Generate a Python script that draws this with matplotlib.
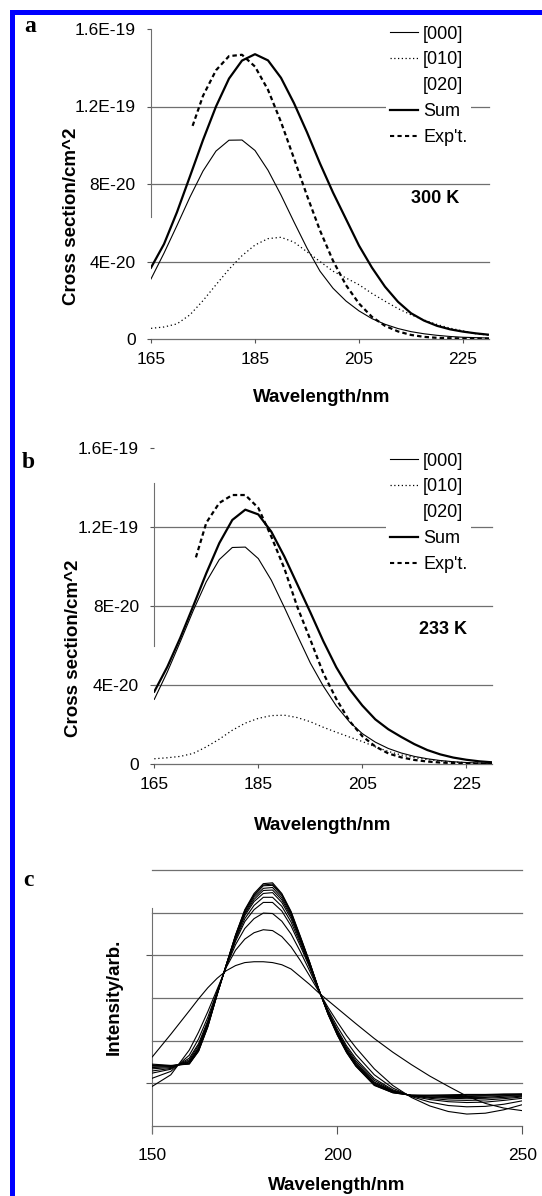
import matplotlib
matplotlib.use("Agg")
import matplotlib.pyplot as plt
from matplotlib.lines import Line2D
from matplotlib.patches import Rectangle

plt.rcParams['font.family'] = ['Liberation Sans', 'DejaVu Sans']

# ---------------- data (cross sections in units of 1E-20 cm^2) ----------------
wl_ab = [165.0, 167.5, 170.0, 172.5, 175.0, 177.5, 180.0, 182.5, 185.0, 187.5,
         190.0, 192.5, 195.0, 197.5, 200.0, 202.5, 205.0, 207.5, 210.0, 212.5,
         215.0, 217.5, 220.0, 222.5, 225.0, 227.5, 230.0]
wl_exp = [173.0, 175.0, 177.5, 180.0, 182.5, 185.0, 187.5, 190.0, 192.5, 195.0,
          197.5, 200.0, 202.5, 205.0, 207.5, 210.0, 212.5, 215.0, 217.5, 220.0,
          222.5, 225.0, 227.5, 230.0]

a_000 = [3.10, 4.43, 5.86, 7.33, 8.67, 9.70, 10.26, 10.27, 9.73, 8.71, 7.43, 6.04,
         4.69, 3.50, 2.62, 1.96, 1.45, 1.05, 0.76, 0.54, 0.38, 0.27, 0.19, 0.13,
         0.09, 0.07, 0.05]
a_010 = [0.55, 0.62, 0.78, 1.25, 1.98, 2.80, 3.60, 4.30, 4.85, 5.18, 5.25, 5.00,
         4.50, 4.00, 3.50, 3.15, 2.80, 2.35, 1.95, 1.57, 1.25, 0.98, 0.75, 0.56,
         0.42, 0.27, 0.20]
a_sum = [3.68, 4.90, 6.55, 8.40, 10.27, 12.00, 13.44, 14.37, 14.70, 14.38, 13.48,
         12.17, 10.67, 9.06, 7.56, 6.19, 4.82, 3.68, 2.70, 1.92, 1.33, 0.95, 0.68,
         0.50, 0.38, 0.29, 0.22]
a_exp = [11.0, 12.55, 13.87, 14.60, 14.67, 14.06, 12.86, 11.20, 9.32, 7.40, 5.60,
         4.04, 2.78, 1.83, 1.14, 0.68, 0.39, 0.21, 0.11, 0.06, 0.04, 0.03, 0.02, 0.02]

b_000 = [3.28, 4.66, 6.19, 7.77, 9.22, 10.34, 10.95, 10.97, 10.39, 9.30, 7.93, 6.51,
         5.12, 3.95, 2.95, 2.15, 1.55, 1.12, 0.80, 0.57, 0.40, 0.28, 0.19, 0.13,
         0.09, 0.06, 0.04]
b_010 = [0.28, 0.33, 0.40, 0.55, 0.88, 1.27, 1.72, 2.08, 2.32, 2.46, 2.48, 2.36,
         2.15, 1.87, 1.62, 1.38, 1.15, 0.88, 0.65, 0.47, 0.34, 0.24, 0.17, 0.12,
         0.08, 0.06, 0.04]
b_sum = [3.67, 4.92, 6.39, 8.00, 9.65, 11.17, 12.34, 12.86, 12.62, 11.75, 10.50,
         9.09, 7.68, 6.22, 4.90, 3.81, 2.97, 2.27, 1.77, 1.38, 1.02, 0.72, 0.50,
         0.34, 0.23, 0.15, 0.10]
b_exp = [10.45, 12.20, 13.20, 13.60, 13.60, 12.95, 11.50, 9.90, 7.95, 6.30, 4.60,
         3.30, 2.20, 1.42, 0.90, 0.55, 0.35, 0.22, 0.14, 0.09, 0.06, 0.04, 0.03, 0.02]

y_ticks_ab = [0, 4, 8, 12, 16]
y_ticklabels_ab = ['0', '4E-20', '8E-20', '1.2E-19', '1.6E-19']
x_ticks_ab = [165, 185, 205, 225]
legend_labels = ['[000]', '[010]', '[020]', 'Sum', "Exp't."]

# panel c: intensity (arb.) of a family of spectra
wl_c = [150, 155, 160, 162.5, 165, 167.5, 170, 172.5, 175, 177.5, 180, 182.5, 185,
        187.5, 190, 192.5, 195, 197.5, 200, 202.5, 205, 210, 215, 220, 225, 230,
        235, 240, 245, 250]
c_spectra = [
    [1.62, 2.15, 2.70, 2.98, 3.24, 3.46, 3.64, 3.76, 3.83, 3.85, 3.85, 3.83, 3.78, 3.68, 3.50,
     3.32, 3.12, 2.94, 2.76, 2.58, 2.40, 2.05, 1.73, 1.44, 1.17, 0.93, 0.70, 0.53, 0.42, 0.36],
    [0.93, 1.20, 1.78, 2.20, 2.68, 3.20, 3.72, 4.12, 4.38, 4.53, 4.60, 4.58, 4.44, 4.20, 3.88,
     3.52, 3.15, 2.78, 2.44, 2.12, 1.84, 1.34, 0.95, 0.67, 0.47, 0.34, 0.28, 0.30, 0.38, 0.50],
    [1.12, 1.28, 1.66, 2.04, 2.55, 3.15, 3.74, 4.25, 4.63, 4.86, 4.99, 4.98, 4.80, 4.50, 4.09,
     3.64, 3.17, 2.72, 2.33, 1.98, 1.68, 1.20, 0.89, 0.69, 0.56, 0.48, 0.45, 0.46, 0.51, 0.59],
    [1.24, 1.33, 1.59, 1.93, 2.47, 3.12, 3.76, 4.33, 4.79, 5.07, 5.24, 5.24, 5.04, 4.69, 4.22,
     3.72, 3.18, 2.69, 2.26, 1.88, 1.58, 1.11, 0.85, 0.70, 0.62, 0.57, 0.55, 0.56, 0.60, 0.65],
    [1.29, 1.35, 1.55, 1.89, 2.43, 3.11, 3.76, 4.37, 4.86, 5.17, 5.36, 5.36, 5.15, 4.78, 4.28,
     3.75, 3.19, 2.67, 2.22, 1.84, 1.53, 1.07, 0.83, 0.71, 0.65, 0.61, 0.60, 0.61, 0.64, 0.68],
    [1.34, 1.37, 1.52, 1.84, 2.40, 3.10, 3.77, 4.40, 4.93, 5.26, 5.45, 5.47, 5.24, 4.86, 4.33,
     3.78, 3.19, 2.65, 2.20, 1.80, 1.49, 1.03, 0.82, 0.71, 0.67, 0.65, 0.64, 0.65, 0.67, 0.70],
    [1.37, 1.39, 1.50, 1.82, 2.37, 3.09, 3.77, 4.43, 4.97, 5.31, 5.52, 5.53, 5.30, 4.91, 4.37,
     3.80, 3.19, 2.64, 2.18, 1.78, 1.47, 1.01, 0.81, 0.71, 0.68, 0.67, 0.67, 0.67, 0.70, 0.71],
    [1.40, 1.40, 1.48, 1.80, 2.36, 3.08, 3.77, 4.44, 5.00, 5.36, 5.57, 5.59, 5.35, 4.95, 4.39,
     3.82, 3.20, 2.64, 2.16, 1.76, 1.44, 0.99, 0.80, 0.72, 0.70, 0.69, 0.69, 0.70, 0.71, 0.73],
    [1.42, 1.41, 1.47, 1.77, 2.34, 3.08, 3.78, 4.46, 5.04, 5.40, 5.63, 5.64, 5.40, 4.99, 4.42,
     3.83, 3.20, 2.63, 2.15, 1.74, 1.42, 0.97, 0.79, 0.72, 0.71, 0.71, 0.72, 0.72, 0.73, 0.74],
    [1.43, 1.41, 1.46, 1.76, 2.33, 3.07, 3.78, 4.47, 5.05, 5.42, 5.65, 5.67, 5.43, 5.01, 4.43,
     3.84, 3.20, 2.62, 2.14, 1.73, 1.41, 0.96, 0.78, 0.72, 0.72, 0.72, 0.73, 0.73, 0.74, 0.75],
    [1.45, 1.42, 1.45, 1.75, 2.32, 3.07, 3.78, 4.48, 5.07, 5.45, 5.68, 5.70, 5.45, 5.03, 4.45,
     3.85, 3.20, 2.62, 2.13, 1.72, 1.40, 0.95, 0.78, 0.72, 0.72, 0.73, 0.74, 0.74, 0.75, 0.75],
]
x_ticks_c = [150, 200, 250]
grid_levels_c = [0, 1, 2, 3, 4, 5, 6]

# ---------------- figure ----------------
W, H = 542, 1196
fig = plt.figure(figsize=(W / 100, H / 100), dpi=100)
fig.patch.set_facecolor('white')

GRID = '#6f6f6f'
TICKFS = 12.5
LABFS = 13.5


def px_axes(x0, x1, y0, y1):
    return fig.add_axes([x0 / W, 1 - y1 / H, (x1 - x0) / W, (y1 - y0) / H])


def style_axes(ax):
    for s in ['top', 'right', 'bottom']:
        ax.spines[s].set_visible(False)
    ax.spines['left'].set_color(GRID)
    ax.spines['left'].set_linewidth(0.8)
    ax.tick_params(axis='both', colors='#555555', labelcolor='black',
                   labelsize=TICKFS, width=0.8)


def panel_ab(ax, s000, s010, ssum, sexp, temp_text, temp_xy, legend_px, spine_bounds):
    ax.set_xlim(165, 230)
    ax.set_ylim(0, 16)
    style_axes(ax)
    ax.spines['left'].set_bounds(*spine_bounds)
    for g in y_ticks_ab[:-1]:
        ax.axhline(g, color=GRID, lw=0.9, zorder=1, clip_on=False)
    ax.plot(wl_ab, s000, color='black', lw=0.8, zorder=3)
    ax.plot(wl_ab, s010, color='black', lw=0.9, ls=(0, (1, 2.2)), zorder=3)
    ax.plot(wl_ab, ssum, color='black', lw=1.6, zorder=4)
    ax.plot(wl_exp, sexp, color='black', lw=1.6, ls=(0, (2.0, 1.4)), zorder=4)
    ax.set_yticks(y_ticks_ab)
    ax.set_yticklabels(y_ticklabels_ab)
    ax.set_xticks(x_ticks_ab)
    ax.tick_params(axis='y', length=3, pad=8)
    ax.tick_params(axis='x', length=3, pad=6)
    ax.text(temp_xy[0], temp_xy[1], temp_text, fontsize=13, fontweight='bold',
            ha='center', va='center')
    handles = [Line2D([], [], color='black', lw=0.8),
               Line2D([], [], color='black', lw=0.9, ls=(0, (1, 2))),
               Line2D([], [], color='none', lw=0),
               Line2D([], [], color='black', lw=1.6),
               Line2D([], [], color='black', lw=1.5, ls=(0, (2.0, 1.6)))]
    leg = ax.legend(handles, legend_labels, loc='upper left',
                    bbox_to_anchor=(legend_px[0] / W, 1 - legend_px[1] / H),
                    bbox_transform=fig.transFigure, frameon=True, fancybox=False,
                    facecolor='white', edgecolor='none', framealpha=1.0,
                    fontsize=13, handlelength=1.55, handletextpad=0.3,
                    labelspacing=0.49, borderpad=0.2, borderaxespad=0)
    leg.set_zorder(5)


# panel a
ax_a = px_axes(151, 489, 29, 339)
panel_ab(ax_a, a_000, a_010, a_sum, a_exp, '300 K', (219.6, 7.25), (386, 22), (6.3, 16))

# panel b
ax_b = px_axes(154.3, 492.3, 447.5, 764.3)
panel_ab(ax_b, b_000, b_010, b_sum, b_exp, '233 K', (220.5, 6.83), (386, 449), (6.0, 14.2))

# panel c
ax_c = px_axes(152.3, 522.3, 870, 1126)
ax_c.set_xlim(150, 250)
ax_c.set_ylim(0, 6)
style_axes(ax_c)
ax_c.spines['left'].set_bounds(-0.16, 5.1)
for g in grid_levels_c:
    ax_c.axhline(g, color=GRID, lw=0.9, zorder=1, clip_on=False)
for row in c_spectra:
    ax_c.plot(wl_c, row, color='black', lw=0.8, zorder=3)
ax_c.set_xticks(x_ticks_c)
ax_c.set_yticks([1, 4])
ax_c.set_yticklabels([])
ax_c.tick_params(axis='y', length=4)
ax_c.tick_params(axis='x', length=6, pad=10)

# axis titles
fig.text(72 / W, 1 - 216 / H, 'Cross section/cm^2', rotation=90, ha='center', va='center',
         fontsize=LABFS, fontweight='bold')
fig.text(73 / W, 1 - 648 / H, 'Cross section/cm^2', rotation=90, ha='center', va='center',
         fontsize=LABFS, fontweight='bold')
fig.text(114 / W, 1 - 997 / H, 'Intensity/arb.', rotation=90, ha='center', va='center',
         fontsize=LABFS, fontweight='bold')
fig.text(322 / W, 1 - 397 / H, 'Wavelength/nm', ha='center', va='center',
         fontsize=LABFS, fontweight='bold')
fig.text(323 / W, 1 - 825 / H, 'Wavelength/nm', ha='center', va='center',
         fontsize=LABFS, fontweight='bold')
fig.text(337 / W, 1 - 1185 / H, 'Wavelength/nm', ha='center', va='center',
         fontsize=LABFS, fontweight='bold')

# panel letters
for letter, (lx, ly) in zip(['a', 'b', 'c'], [(30, 27), (28, 462), (28, 881)]):
    fig.text(lx / W, 1 - ly / H, letter, ha='center', va='center', fontsize=17,
             fontweight='bold', family=['Liberation Serif', 'DejaVu Serif'])

# blue frame (top and left edges)
fig.add_artist(Rectangle((10 / W, 1 - 15 / H), 1 - 10 / W, 5.5 / H, transform=fig.transFigure,
                         facecolor='#0000ff', edgecolor='none'))
fig.add_artist(Rectangle((10 / W, 0), 5 / W, 1 - 9.5 / H, transform=fig.transFigure,
                         facecolor='#0000ff', edgecolor='none'))

fig.savefig('out.png', dpi=100, facecolor='white')
